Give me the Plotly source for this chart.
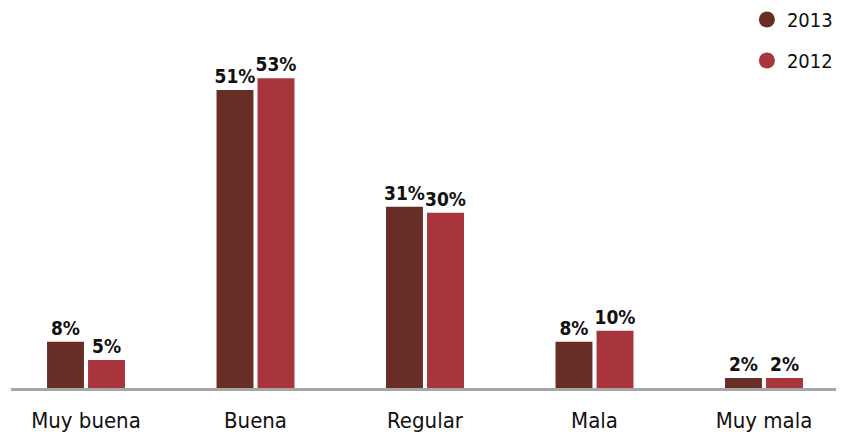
import plotly.graph_objects as go

categories = ["Muy buena", "Buena", "Regular", "Mala", "Muy mala"]
series_names = ["2013", "2012"]
values_2013 = [7.9, 51, 31, 7.9, 1.7]
values_2012 = [4.8, 53, 30, 9.8, 1.7]

colors = {"2013": "#682E25", "2012": "#A8343C"}
FONT = "DejaVu Sans Condensed, Roboto, sans-serif"

fig = go.Figure()
for name, vals in zip(series_names, [values_2013, values_2012]):
    fig.add_trace(go.Bar(
        x=categories, y=vals, name=name, marker_color=colors[name],
        marker_line_width=0, showlegend=False,
        text=[f"{v:.0f}%" for v in vals], textposition="outside",
        constraintext="none",
        textfont=dict(family=FONT, size=19, color="#111111", weight="bold"),
        cliponaxis=False,
    ))
for name in series_names:
    fig.add_trace(go.Scatter(
        x=[None], y=[None], mode="markers", name=name, legendgroup=name,
        marker=dict(symbol="circle", size=17, color=colors[name]),
    ))

fig.update_layout(
    width=846, height=435,
    margin=dict(l=11, r=10, t=0, b=47),
    paper_bgcolor="white", plot_bgcolor="white",
    barmode="group", bargap=0.516, bargroupgap=0.1,
    font=dict(family=FONT, size=22, color="#111111"),
    legend=dict(x=0.892, y=1.0, xanchor="left", yanchor="top",
                font=dict(size=20), tracegroupgap=12, traceorder="grouped",
                itemwidth=30, bgcolor="rgba(0,0,0,0)"),
    showlegend=True,
)
fig.update_xaxes(type="category", range=[-0.4425, 4.4248], showline=True,
                 linecolor="#A6A6A6", linewidth=3, ticks="", showgrid=False,
                 tickfont=dict(size=22), ticklabelstandoff=11)
fig.update_yaxes(range=[0, 66.4], visible=False, showgrid=False, zeroline=False)

fig.write_html("out.html", post_script="document.body.style.margin='0';",
               config={"displayModeBar": False})
